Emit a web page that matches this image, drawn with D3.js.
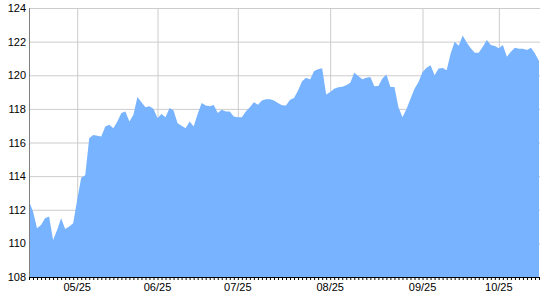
<!DOCTYPE html>
<html>
<head>
<meta charset="utf-8">
<script src="https://cdn.jsdelivr.net/npm/d3@7"></script>
<style>
  body { margin: 0; background: #fff; }
  text { font-family: 'Liberation Sans', Arial, sans-serif; font-size: 11px; fill: #000; }
</style>
</head>
<body>
<div id="chart"></div>
<script>
// closing values, one per trading day
var values = [
  112.5, 111.9, 110.9, 111.1, 111.5, 111.6, 110.2, 110.8, 111.5, 110.85,
  111.0, 111.2, 112.6, 113.9, 114.05, 116.25, 116.45, 116.4, 116.35, 116.95,
  117.05, 116.85, 117.25, 117.75, 117.85, 117.25, 117.65, 118.7, 118.4, 118.1,
  118.15, 118.0, 117.45, 117.7, 117.5, 118.05, 117.9, 117.15, 117.0, 116.85,
  117.25, 116.95, 117.7, 118.35, 118.2, 118.15, 118.23, 117.75, 117.95, 117.85,
  117.85, 117.55, 117.5, 117.5, 117.85, 118.1, 118.4, 118.25, 118.5, 118.57,
  118.57, 118.5, 118.35, 118.22, 118.2, 118.55, 118.65, 119.1, 119.65, 119.85,
  119.75, 120.25, 120.35, 120.41, 118.85, 119.0, 119.2, 119.28, 119.32, 119.4,
  119.55, 120.15, 119.95, 119.76, 119.85, 119.9, 119.35, 119.36, 119.8, 120.04,
  119.3, 119.3, 118.1, 117.5, 118.0, 118.6, 119.2, 119.6, 120.2, 120.45,
  120.59, 120.0, 120.4, 120.43, 120.3, 121.3, 122.0, 121.76, 122.36, 121.95,
  121.6, 121.34, 121.34, 121.7, 122.1, 121.8, 121.74, 121.6, 121.8, 121.1,
  121.4, 121.64, 121.58, 121.58, 121.5, 121.64, 121.3, 120.85
];

// month labels and the day index they sit on
var monthLabels = ['05/25', '06/25', '07/25', '08/25', '09/25', '10/25'];
var monthIndex = [12, 32, 52, 75, 98, 117];

var yTicks = [108, 110, 112, 114, 116, 118, 120, 122, 124];

var width = 540;
var height = 300;
var plotLeft = 29;
var plotRight = 539;
var plotTop = 8;
var plotBottom = 277;

var x = d3.scaleLinear()
        .domain([0, values.length - 1])
        .range([plotLeft, plotRight]);

var y = d3.scaleLinear()
        .domain([108, 124])
        .range([plotBottom, plotTop]);

var svg = d3.select('#chart')
            .append('svg')
            .attr('width', width)
            .attr('height', height);

// horizontal grid lines + y labels
var yAxis = d3.axisLeft(y)
            .tickValues(yTicks)
            .tickSizeInner(-(plotRight - plotLeft + 1))
            .tickSizeOuter(0)
            .tickPadding(3);

var yG = svg.append('g')
            .attr('transform', 'translate(' + plotLeft + ',0)')
            .call(yAxis);
yG.select('.domain').remove();
yG.selectAll('line').attr('stroke', '#cccccc');
yG.selectAll('text').attr('font-size', 11).attr('font-family', null);

// vertical grid lines at the month labels
var xGrid = d3.axisBottom(x)
            .tickValues(monthIndex)
            .tickSizeInner(-(plotBottom - plotTop))
            .tickSizeOuter(0)
            .tickFormat('');

var gridG = svg.append('g')
              .attr('transform', 'translate(0,' + plotBottom + ')')
              .call(xGrid);
gridG.select('.domain').remove();
gridG.selectAll('line').attr('stroke', '#cccccc');

// filled area under the price
var area = d3.area()
             .x(function (d, i) { return x(i); })
             .y0(y(108))
             .y1(function (d) { return y(d); });

svg.append('path')
   .datum(values)
   .attr('fill', '#77b3ff')
   .attr('d', area);

// left axis line
svg.append('line')
   .attr('x1', plotLeft + 0.5)
   .attr('x2', plotLeft + 0.5)
   .attr('y1', plotTop)
   .attr('y2', plotBottom + 1)
   .attr('stroke', '#808080');

// bottom axis: a small tick for every day
var xTicks = d3.axisBottom(x)
            .tickValues(d3.range(values.length))
            .tickSizeInner(3)
            .tickSizeOuter(0)
            .tickFormat('');

var tickG = svg.append('g')
              .attr('transform', 'translate(0,' + plotBottom + ')')
              .call(xTicks);
tickG.select('.domain')
     .attr('stroke', '#000');
tickG.selectAll('line').attr('stroke', '#000');

// month labels
svg.selectAll('.month')
   .data(monthIndex)
   .enter()
   .append('text')
     .attr('class', 'month')
     .attr('x', function (d) { return x(d); })
     .attr('y', 291)
     .attr('text-anchor', 'middle')
     .text(function (d, i) { return monthLabels[i]; });
</script>
</body>
</html>
